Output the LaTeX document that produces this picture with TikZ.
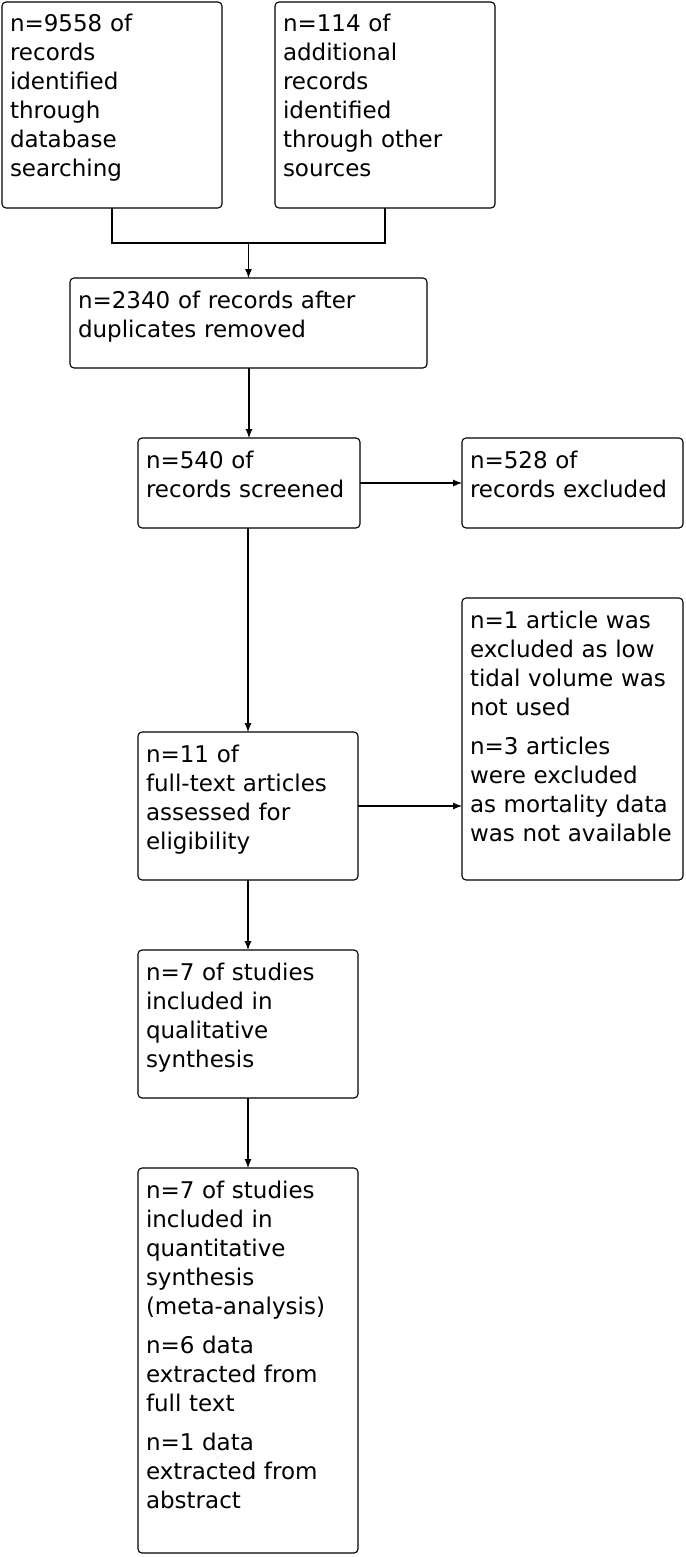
\documentclass[tikz,border=0pt]{standalone}
\usepackage{fontspec}
\setmainfont{DejaVu Sans}
\usetikzlibrary{arrows.meta}
\tikzset{
  box/.style={draw, rounded corners=4pt, anchor=north west, align=left,
    outer sep=0pt, inner xsep=8pt, inner ysep=9pt, text height=21pt,
    font=\fontsize{23}{29}\selectfont},
}
\begin{document}
\begin{tikzpicture}[x=1pt,y=-1pt,line width=1.1pt,>={Latex[length=9pt,width=7pt]}]
  \useasboundingbox (0,0) rectangle (685,1557);
  \draw
    (2,2) node[box, text width=204pt, text depth=167pt] (0)
      {n=9558 of\\records\\identified\\through\\database\\searching}
    (275,2) node[box, text width=204pt, text depth=167pt] (1)
      {n=114 of\\additional\\records\\identified\\through other\\sources}
    (70,278) node[box, text width=341pt, text depth=51pt] (2)
      {n=2340 of records after\\duplicates removed}
    (138,438) node[box, text width=206pt, text depth=51pt] (3)
      {n=540 of\\records screened}
    (462,438) node[box, text width=205pt, text depth=51pt] (4)
      {n=528 of\\records excluded}
    (138,732) node[box, text width=204pt, text depth=109pt] (5)
      {n=11 of\\full-text articles\\assessed for\\eligibility}
    (462,598) node[box, text width=205pt, text depth=243pt] (6)
      {n=1 article was\\excluded as low\\tidal volume was\\not used\\[10pt]
       n=3 articles\\were excluded\\as mortality data\\was not available}
    (138,950) node[box, text width=204pt, text depth=109pt] (7)
      {n=7 of studies\\included in\\qualitative\\synthesis}
    (138,1168) node[box, text width=204pt, text depth=346pt] (8)
      {n=7 of studies\\included in\\quantitative\\synthesis\\(meta-analysis)\\[10pt]
       n=6 data\\extracted from\\full text\\[10pt]
       n=1 data\\extracted from\\abstract};
  \coordinate (m) at ([yshift=-35pt]2.north |- 0.south);
  \begin{scope}[->]
    \draw[-] (0.south) |- (m) -| (1.south);
    \draw (m) -- (2.north);
    \draw (3.north |- 2.south) -- (3.north);
    \draw (3) -- (4);
    \draw (5.north |- 3.south) -- (5.north);
    \draw (5.east) -- (5.east -| 6.west);
    \draw (7.north |- 5.south) -- (7.north);
    \draw (8.north |- 7.south) -- (8.north);
  \end{scope}
\end{tikzpicture}
\end{document}
